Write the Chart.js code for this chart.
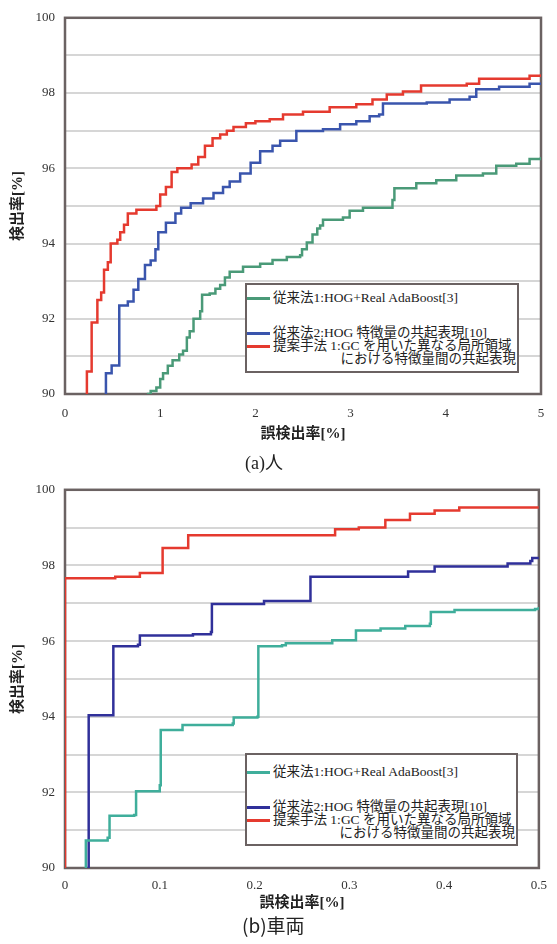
<!DOCTYPE html>
<html lang="ja">
<head>
<meta charset="utf-8">
<script src="https://cdn.jsdelivr.net/npm/chart.js@4.4.1/dist/chart.umd.min.js"></script>
<style>
  body { margin: 0; background: #fff; width: 557px; height: 944px; position: relative; overflow: hidden; }
  .plot { position: absolute; left: 0; width: 557px; }
  .legend { position: absolute; border: 2px solid #6b6262; background: #fff; box-sizing: border-box;
            font-family: "Liberation Serif", "Noto Sans CJK JP", serif; font-size: 13.5px; color: #222; }
  .row { position: absolute; left: 0; right: 0; height: 16px; line-height: 16px; white-space: nowrap; }
  .swatch { position: absolute; left: 0; top: 7px; width: 23px; height: 3px; }
  .lbl { position: absolute; left: 26px; }
  .lbl.right { left: auto; right: 1px; }
  .caption { position: absolute; color: #222; white-space: nowrap; }
</style>
</head>
<body>
<div class="plot" style="top:0;height:450px"><canvas id="person"></canvas></div>
<div class="plot" style="top:472px;height:448px"><canvas id="car"></canvas></div>
<div class="legend" id="legend1" style="left:245px;top:283px;width:274px;height:90px"></div>
<div class="legend" id="legend2" style="left:245px;top:753px;width:273px;height:93px"></div>
<div class="caption" style="left:245px;top:452px;font:18px/22px 'Liberation Serif','Noto Sans CJK JP',serif">(a)人</div>
<div class="caption" style="left:242px;top:913px;font:19px/24px 'Noto Sans CJK JP',sans-serif">(b)車両</div>
<script>
// legend texts (last one wraps onto two lines)
const seriesNames = [
  ['従来法1:HOG+Real AdaBoost[3]'],
  ['従来法2:HOG 特徴量の共起表現[10]'],
  ['提案手法 1:GC を用いた異なる局所領域', 'における特徴量間の共起表現']
];
const yAxisTitle = '検出率[%]';
const xAxisTitle = '誤検出率[%]';

// (a) person: false positive rate [%] / detection rate [%]
const personHogRabX = [0.86, 0.9, 0.96, 1.0, 1.03, 1.08, 1.13, 1.2, 1.24, 1.28, 1.31, 1.35, 1.42, 1.44, 1.52, 1.58, 1.63, 1.68, 1.73, 1.87, 2.05, 2.18, 2.33, 2.47, 2.49, 2.54, 2.6, 2.65, 2.68, 2.71, 2.92, 2.99, 3.13, 3.44, 3.46, 3.69, 3.9, 4.11, 4.39, 4.53, 4.74, 4.88, 5.0];
const personHogRabY = [90.0, 90.08, 90.17, 90.4, 90.55, 90.75, 90.9, 91.05, 91.15, 91.5, 91.67, 92.0, 92.2, 92.64, 92.67, 92.8, 92.9, 93.1, 93.25, 93.38, 93.46, 93.56, 93.64, 93.69, 93.85, 94.03, 94.24, 94.4, 94.48, 94.63, 94.69, 94.87, 94.95, 95.16, 95.47, 95.6, 95.68, 95.81, 95.86, 96.07, 96.12, 96.25, 96.3];
const personCohogX = [0.43, 0.43, 0.49, 0.57, 0.66, 0.72, 0.77, 0.84, 0.9, 0.95, 0.98, 1.06, 1.16, 1.22, 1.32, 1.45, 1.56, 1.66, 1.73, 1.84, 1.95, 2.05, 2.18, 2.26, 2.43, 2.71, 2.89, 3.06, 3.2, 3.3, 3.34, 3.8, 4.04, 4.25, 4.32, 4.56, 4.88, 5.0];
const personCohogY = [90.0, 90.55, 90.76, 92.35, 92.46, 92.77, 93.06, 93.43, 93.55, 93.85, 94.3, 94.55, 94.8, 94.95, 95.07, 95.2, 95.34, 95.5, 95.65, 95.86, 96.15, 96.45, 96.6, 96.73, 96.99, 97.04, 97.17, 97.25, 97.38, 97.43, 97.72, 97.75, 97.83, 97.9, 98.1, 98.17, 98.25, 98.27];
const personGcX = [0.23, 0.23, 0.28, 0.34, 0.38, 0.41, 0.45, 0.48, 0.55, 0.58, 0.62, 0.66, 0.75, 0.96, 1.0, 1.06, 1.12, 1.18, 1.33, 1.4, 1.47, 1.55, 1.63, 1.7, 1.77, 1.9, 2.0, 2.15, 2.29, 2.5, 2.78, 3.06, 3.23, 3.38, 3.55, 3.74, 4.22, 4.35, 4.88, 5.0];
const personGcY = [90.0, 90.6, 91.9, 92.5, 92.7, 93.3, 93.5, 94.0, 94.1, 94.3, 94.5, 94.8, 94.9, 95.0, 95.3, 95.5, 95.9, 96.0, 96.1, 96.3, 96.6, 96.8, 96.9, 97.0, 97.1, 97.2, 97.25, 97.3, 97.43, 97.5, 97.62, 97.7, 97.83, 97.96, 98.04, 98.2, 98.25, 98.38, 98.46, 98.5];

// (b) car
const carHogRabX = [0.022, 0.022, 0.045, 0.047, 0.073, 0.075, 0.1, 0.101, 0.124, 0.177, 0.178, 0.203, 0.204, 0.229, 0.233, 0.282, 0.307, 0.333, 0.359, 0.385, 0.386, 0.411, 0.496, 0.5];
const carHogRabY = [90.0, 90.73, 90.8, 91.38, 91.4, 92.03, 92.19, 93.65, 93.78, 93.82, 93.98, 94.0, 95.86, 95.89, 95.94, 96.02, 96.28, 96.33, 96.4, 96.46, 96.77, 96.82, 96.85, 96.9];
const carCohogX = [0.025, 0.025, 0.051, 0.077, 0.079, 0.135, 0.154, 0.155, 0.21, 0.259, 0.362, 0.39, 0.467, 0.491, 0.493, 0.5];
const carCohogY = [90.0, 94.04, 95.86, 95.9, 96.15, 96.18, 96.24, 96.98, 97.06, 97.7, 97.84, 97.97, 98.05, 98.12, 98.2, 98.23];
const carGcX = [0, 0, 0.053, 0.079, 0.103, 0.13, 0.285, 0.31, 0.338, 0.364, 0.39, 0.416, 0.5];
const carGcY = [90.0, 97.66, 97.7, 97.8, 98.46, 98.8, 98.96, 99.0, 99.2, 99.37, 99.45, 99.53, 99.53];

const tickFont = { family: '"Liberation Serif", serif', size: 13 };
const titleFont = { family: '"Liberation Serif", "Noto Sans CJK JP", serif', size: 15, weight: 'bold' };

// plot frame drawn under the curves
const frame = {
  id: 'frame',
  beforeDatasetsDraw(chart) {
    const { ctx, chartArea: a } = chart;
    ctx.save();
    ctx.strokeStyle = '#6b6262';
    ctx.lineWidth = 2.5;
    ctx.strokeRect(a.left, a.top, a.right - a.left, a.bottom - a.top);
    ctx.restore();
  }
};

function toPoints(xs, ys) {
  return xs.map((x, i) => ({ x: x, y: ys[i] }));
}

function makeChart(id, xMax, xStep, lines, colors, axisH, tickPad, titlePad) {
  const ctx = document.getElementById(id).getContext('2d');
  return new Chart(ctx, {
    type: 'line',
    data: {
      datasets: lines.map((l, i) => ({
        label: seriesNames[i].join(''),
        data: toPoints(l[0], l[1]),
        borderColor: colors[i],
        borderWidth: 2.5,
        pointRadius: 0,
        stepped: true,
        fill: false
      }))
    },
    options: {
      responsive: true,
      maintainAspectRatio: false,
      animation: false,
      layout: { padding: { top: 12, right: 16, left: 0, bottom: 0 } },
      plugins: { legend: { display: false }, tooltip: { enabled: false } },
      scales: {
        x: {
          type: 'linear',
          min: 0,
          max: xMax,
          ticks: { stepSize: xStep, font: tickFont, color: '#333', padding: tickPad, maxRotation: 0 },
          grid: { display: false, drawTicks: false },
          border: { display: false },
          title: { display: true, text: xAxisTitle, font: titleFont, color: '#222', padding: { top: 0, bottom: titlePad } },
          afterFit: s => { s.height = axisH; }
        },
        y: {
          min: 90,
          max: 100,
          ticks: {
            stepSize: 1,
            font: tickFont,
            color: '#333',
            padding: 10,
            callback: v => (v % 2 === 0 ? v : '')
          },
          grid: { color: '#d6d6d6', lineWidth: 2, drawTicks: false },
          border: { display: false },
          title: { display: true, text: yAxisTitle, font: titleFont, color: '#222', padding: { top: 9, bottom: 0 } },
          afterFit: s => { s.width = 65; }
        }
      }
    },
    plugins: [frame]
  });
}

function makeLegend(id, colors, rowTops) {
  const box = document.getElementById(id);
  let html = '';
  seriesNames.forEach((name, i) => {
    html += '<div class="row" style="top:' + rowTops[i] + 'px"><span class="swatch" style="background:' + colors[i] + '"></span><span class="lbl">' + name[0] + '</span></div>';
    if (name.length > 1) {
      html += '<div class="row" style="top:' + (rowTops[i] + 13) + 'px"><span class="lbl right">' + name[1] + '</span></div>';
    }
  });
  box.innerHTML = html;
}

const personColors = ['#4a9a78', '#3a55ad', '#e53a2f'];
const carColors = ['#3fae9b', '#30309a', '#e53a2f'];

makeChart('person', 5, 1,
  [[personHogRabX, personHogRabY], [personCohogX, personCohogY], [personGcX, personGcY]],
  personColors, 56, 12, 7);
makeChart('car', 0.5, 0.1,
  [[carHogRabX, carHogRabY], [carCohogX, carCohogY], [carGcX, carGcY]],
  carColors, 52, 10, 8);

makeLegend('legend1', personColors, [5, 40, 53]);
makeLegend('legend2', carColors, [9, 44, 57]);
</script>
</body>
</html>
